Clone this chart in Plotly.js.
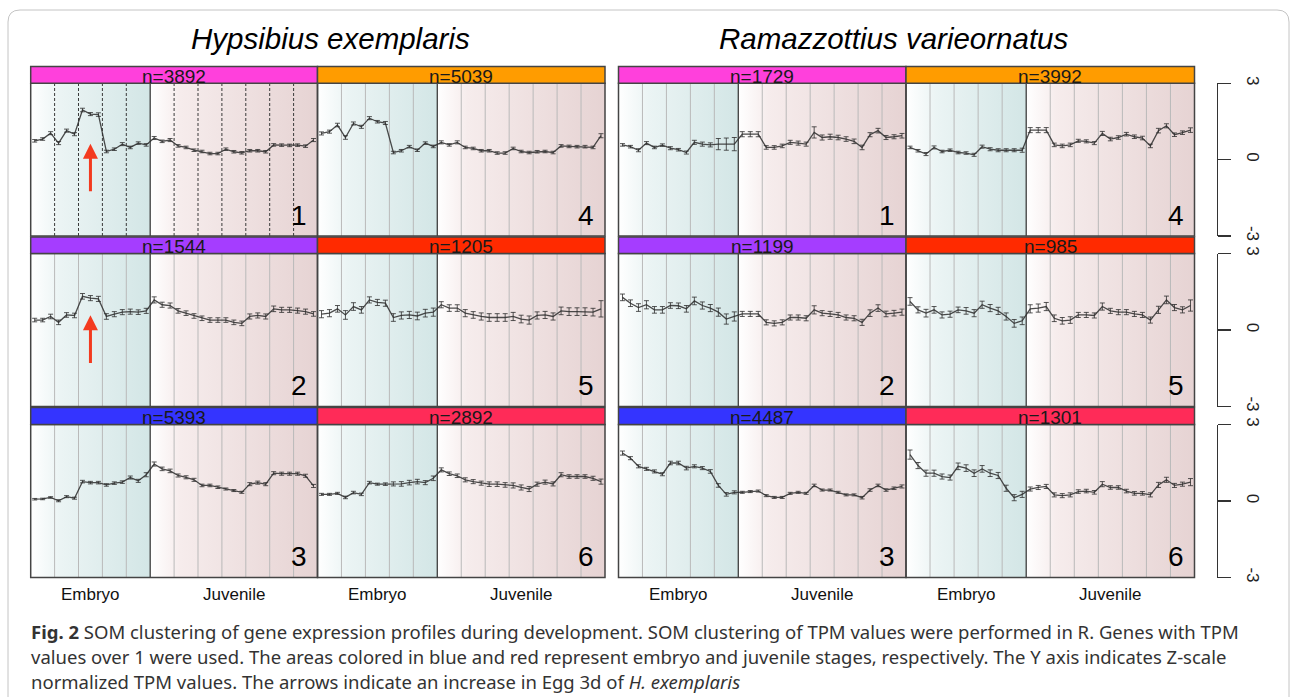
<!DOCTYPE html>
<html><head><meta charset="utf-8">
<script src="https://cdn.plot.ly/plotly-3.0.1.min.js"></script>
<style>html,body{margin:0;padding:0;background:#fff;} #chart{width:1290px;height:697px;}</style>
</head><body><div id="chart"></div>
<script>
// ---------- data ----------
const samples = [1,2,3,4,5,6,7,8,9,10,11,12,13,14,15,16,17,18,19,20,21,22,23,24,25,26,27,28,29,30,31,32,33,34,35,36];
const stageBreaks = [3.5,6.5,9.5,12.5,18.5,21.5,24.5,27.5,30.5,33.5];
const embryoEnd = 15.5;
const speciesNames = ['Hypsibius exemplaris','Ramazzottius varieornatus'];
const stageLabels = ['Embryo','Juvenile'];
const clusterIds = [1,4,1,4, 2,5,2,5, 3,6,3,6];
const clusterN   = [3892,5039,1729,3992, 1544,1205,1199,985, 5393,2892,4487,1301];
const headerColors = ['#ff40dc','#ff9c00','#ff40dc','#ff9c00','#a53dff','#ff2a00','#a53dff','#ff2a00','#3434ff','#ff2b58','#3434ff','#ff2b58'];

const hex1 = [0.74,0.81,1.04,0.65,1.14,1.00,1.95,1.79,1.77,0.32,0.41,0.61,0.48,0.65,0.58,0.85,0.72,0.77,0.54,0.48,0.37,0.32,0.24,0.24,0.41,0.31,0.27,0.35,0.35,0.31,0.58,0.57,0.56,0.57,0.53,0.77];
const hex4 = [1.03,1.10,1.36,0.87,1.42,1.29,1.63,1.49,1.44,0.28,0.35,0.51,0.37,0.65,0.52,0.68,0.58,0.68,0.48,0.44,0.35,0.35,0.26,0.26,0.44,0.32,0.28,0.31,0.32,0.28,0.54,0.52,0.51,0.51,0.48,0.94];
const ram1 = [0.58,0.51,0.37,0.65,0.48,0.57,0.45,0.39,0.28,0.68,0.61,0.58,0.61,0.61,0.61,1.00,1.00,1.00,0.48,0.48,0.54,0.68,0.65,0.61,1.07,0.87,0.90,0.87,0.81,0.72,0.48,0.98,1.14,0.87,0.90,0.94];
const ram4 = [0.48,0.35,0.22,0.48,0.32,0.37,0.28,0.26,0.19,0.51,0.41,0.37,0.37,0.37,0.37,1.16,1.16,1.16,0.58,0.54,0.58,0.74,0.72,0.65,1.03,0.81,0.87,1.00,0.90,0.85,0.54,1.14,1.33,0.98,1.06,1.16];
const hex2 = [0.39,0.39,0.53,0.30,0.59,0.57,1.32,1.25,1.22,0.53,0.62,0.70,0.72,0.70,0.75,1.18,0.99,0.96,0.75,0.66,0.55,0.46,0.39,0.39,0.39,0.30,0.26,0.53,0.57,0.53,0.83,0.79,0.79,0.76,0.72,0.63];
const hex5 = [0.62,0.66,0.83,0.59,0.92,0.79,1.18,1.08,1.05,0.49,0.57,0.59,0.55,0.66,0.70,0.99,0.86,0.86,0.66,0.59,0.53,0.49,0.49,0.49,0.53,0.43,0.39,0.57,0.59,0.53,0.75,0.72,0.72,0.72,0.70,0.83];
const ram2 = [1.28,1.05,0.88,0.99,0.79,0.79,0.96,0.95,0.83,1.14,0.96,0.86,0.70,0.43,0.53,0.63,0.63,0.63,0.30,0.26,0.30,0.49,0.49,0.46,0.79,0.66,0.63,0.59,0.49,0.46,0.30,0.66,0.86,0.63,0.66,0.70];
const ram5 = [1.12,0.79,0.66,0.79,0.59,0.62,0.79,0.75,0.66,0.99,0.86,0.75,0.53,0.26,0.36,0.83,0.86,0.92,0.46,0.36,0.39,0.59,0.59,0.57,0.92,0.75,0.70,0.70,0.63,0.59,0.39,0.79,1.18,0.88,0.79,0.96];
const hex3 = [0.07,0.08,0.14,0.01,0.17,0.11,0.76,0.72,0.72,0.63,0.70,0.74,0.92,0.79,1.03,1.45,1.26,1.18,1.00,0.93,0.83,0.61,0.61,0.54,0.47,0.41,0.34,0.66,0.72,0.66,1.09,1.07,1.07,1.07,0.99,0.59];
const hex6 = [0.26,0.26,0.30,0.14,0.33,0.26,0.72,0.66,0.66,0.67,0.67,0.72,0.76,0.72,0.89,1.22,1.07,0.99,0.83,0.76,0.70,0.66,0.66,0.63,0.61,0.53,0.47,0.66,0.74,0.67,1.03,0.96,0.96,0.96,0.89,0.76];
const ram3 = [1.88,1.68,1.36,1.26,1.16,1.05,1.49,1.49,1.29,1.36,1.29,1.16,0.61,0.26,0.34,0.34,0.37,0.39,0.21,0.14,0.14,0.30,0.34,0.30,0.61,0.43,0.43,0.34,0.24,0.24,0.13,0.43,0.61,0.43,0.50,0.57];
const ram6 = [1.82,1.39,1.09,1.09,0.96,0.92,1.36,1.29,1.09,1.26,1.09,1.00,0.50,0.13,0.26,0.47,0.53,0.57,0.24,0.21,0.24,0.37,0.39,0.34,0.66,0.53,0.53,0.39,0.30,0.30,0.24,0.63,0.83,0.61,0.66,0.74];

const hex1Err = [0.05,0.05,0.06,0.06,0.06,0.06,0.07,0.06,0.07,0.05,0.05,0.06,0.05,0.05,0.05,0.06,0.05,0.06,0.05,0.05,0.05,0.05,0.05,0.05,0.05,0.05,0.05,0.05,0.05,0.05,0.05,0.05,0.05,0.05,0.05,0.06];
const hex4Err = [0.06,0.06,0.07,0.07,0.06,0.06,0.06,0.05,0.06,0.05,0.05,0.05,0.05,0.05,0.05,0.06,0.05,0.06,0.05,0.05,0.05,0.05,0.05,0.05,0.05,0.05,0.05,0.05,0.05,0.05,0.05,0.05,0.05,0.05,0.05,0.08];
const ram1Err = [0.05,0.05,0.06,0.06,0.05,0.05,0.06,0.05,0.06,0.08,0.08,0.08,0.22,0.24,0.26,0.10,0.10,0.10,0.07,0.07,0.07,0.08,0.08,0.08,0.22,0.10,0.10,0.09,0.09,0.09,0.09,0.08,0.09,0.08,0.08,0.09];
const ram4Err = [0.05,0.05,0.06,0.06,0.05,0.05,0.05,0.05,0.06,0.06,0.06,0.06,0.06,0.06,0.08,0.10,0.10,0.10,0.07,0.07,0.07,0.06,0.06,0.06,0.08,0.07,0.07,0.07,0.07,0.07,0.07,0.09,0.08,0.07,0.07,0.09];
const hex2Err = [0.07,0.07,0.09,0.09,0.09,0.09,0.11,0.10,0.10,0.11,0.10,0.10,0.10,0.09,0.10,0.12,0.10,0.10,0.09,0.09,0.09,0.09,0.09,0.09,0.09,0.09,0.09,0.10,0.10,0.10,0.11,0.10,0.10,0.10,0.10,0.09];
const hex5Err = [0.14,0.14,0.13,0.17,0.15,0.13,0.12,0.12,0.12,0.15,0.14,0.14,0.15,0.15,0.16,0.12,0.13,0.13,0.14,0.13,0.14,0.15,0.15,0.15,0.16,0.15,0.16,0.14,0.14,0.14,0.15,0.15,0.15,0.15,0.15,0.32];
const ram2Err = [0.13,0.13,0.15,0.16,0.13,0.13,0.11,0.11,0.13,0.15,0.14,0.14,0.16,0.20,0.18,0.10,0.10,0.10,0.10,0.10,0.10,0.10,0.10,0.10,0.16,0.10,0.10,0.10,0.10,0.10,0.12,0.13,0.13,0.11,0.11,0.12];
const ram5Err = [0.15,0.12,0.15,0.13,0.12,0.12,0.11,0.13,0.14,0.14,0.14,0.14,0.14,0.15,0.15,0.16,0.16,0.16,0.13,0.13,0.13,0.10,0.10,0.10,0.14,0.10,0.10,0.10,0.10,0.10,0.12,0.14,0.15,0.12,0.12,0.22];
const hex3Err = [0.03,0.03,0.03,0.04,0.04,0.04,0.05,0.05,0.05,0.05,0.05,0.05,0.06,0.06,0.08,0.08,0.07,0.07,0.06,0.06,0.06,0.05,0.05,0.05,0.04,0.04,0.04,0.06,0.06,0.06,0.06,0.06,0.06,0.06,0.06,0.06];
const hex6Err = [0.04,0.04,0.04,0.05,0.05,0.05,0.05,0.04,0.05,0.08,0.09,0.09,0.09,0.08,0.09,0.08,0.07,0.07,0.08,0.08,0.08,0.09,0.09,0.09,0.10,0.10,0.10,0.08,0.08,0.08,0.08,0.07,0.07,0.07,0.08,0.10];
const ram3Err = [0.08,0.06,0.06,0.06,0.06,0.06,0.07,0.07,0.07,0.06,0.06,0.07,0.07,0.07,0.06,0.04,0.04,0.04,0.04,0.04,0.04,0.04,0.04,0.04,0.05,0.04,0.04,0.04,0.04,0.04,0.05,0.05,0.05,0.05,0.05,0.06];
const ram6Err = [0.18,0.12,0.12,0.12,0.10,0.10,0.13,0.13,0.13,0.13,0.13,0.12,0.12,0.12,0.12,0.08,0.08,0.08,0.08,0.08,0.08,0.07,0.07,0.07,0.10,0.07,0.07,0.07,0.07,0.07,0.08,0.10,0.10,0.08,0.08,0.14];

const panelValues = [hex1,hex4,ram1,ram4, hex2,hex5,ram2,ram5, hex3,hex6,ram3,ram6];
const panelErrors = [hex1Err,hex4Err,ram1Err,ram4Err, hex2Err,hex5Err,ram2Err,ram5Err, hex3Err,hex6Err,ram3Err,ram6Err];
const yRange = [-3,3];
const yTicks = [-3,0,3];

// ---------- layout geometry (pixels) ----------
const W = 1290, H = 697;
const colsPx = [[30.7,317.5],[317.5,605],[618.5,906],[906,1194.5]];
const rowsPx = [[83.3,236],[253.5,406.5],[424.5,577.5]];
const headPx = [[66.5,83.3],[237,253.5],[407.5,424.5]];
const X = p => p / W;
const Y = p => 1 - p / H;
const axId = (k) => (k === 1 ? '' : String(k));

const data = [];
const layout = {
  width: W, height: H,
  margin: {l:0, r:0, t:0, b:0},
  paper_bgcolor: '#ffffff', plot_bgcolor: 'rgba(0,0,0,0)',
  showlegend: false,
  font: {family: 'Liberation Sans, Arial, sans-serif', color: '#111'},
  shapes: [], annotations: []
};

const embryoScale = [[0,'#ffffff'],[0.25,'#ebf4f4'],[1,'#d3e6e6']];
const juvScale = [[0,'#ffffff'],[0.18,'#f6ecec'],[1,'#e6d3d3']];

for (let i = 0; i < 12; i++) {
  const k = i + 1;
  const r = Math.floor(i / 4), c = i % 4;
  const xa = 'x' + axId(k), ya = 'y' + axId(k);
  const xr = samples[0] - 0.5, xR = samples[samples.length - 1] + 0.5;

  layout['xaxis' + axId(k)] = {domain: [X(colsPx[c][0]), X(colsPx[c][1])], range: [xr, xR], anchor: ya,
    showgrid:false, zeroline:false, showticklabels:false, ticks:'', showline:false, fixedrange:true};
  const yax = {domain: [Y(rowsPx[r][1]), Y(rowsPx[r][0])], range: yRange, anchor: xa,
    showgrid:false, zeroline:false, showticklabels:false, ticks:'', showline:false, fixedrange:true};
  if (c === 3) {
    Object.assign(yax, {anchor:'free', position: X(1216.5), side:'right', showline:true, linecolor:'#333', linewidth:1.2,
      ticks:'outside', ticklen:13, tickwidth:1.2, tickcolor:'#333', tickvals: yTicks, ticktext: yTicks.map(String),
      showticklabels:true, tickangle:90, ticklabelstandoff: 10,
      tickfont:{size:17, color:'#222', family:'Liberation Sans, Arial, sans-serif'}});
  }
  layout['yaxis' + axId(k)] = yax;

  // gradient backgrounds
  data.push({type:'scatter', xaxis:xa, yaxis:ya, x:[xr,embryoEnd,embryoEnd,xr,xr], y:[yRange[0],yRange[0],yRange[1],yRange[1],yRange[0]],
    mode:'lines', line:{width:0}, fill:'toself', fillgradient:{type:'horizontal', colorscale: embryoScale}, hoverinfo:'skip'});
  data.push({type:'scatter', xaxis:xa, yaxis:ya, x:[embryoEnd,xR,xR,embryoEnd,embryoEnd], y:[yRange[0],yRange[0],yRange[1],yRange[1],yRange[0]],
    mode:'lines', line:{width:0}, fill:'toself', fillgradient:{type:'horizontal', colorscale: juvScale}, hoverinfo:'skip'});

  // stage separators
  const sx = [], sy = [];
  stageBreaks.forEach(b => { sx.push(b, b, null); sy.push(yRange[0], yRange[1], null); });
  const dashed = (i === 0);
  data.push({type:'scatter', xaxis:xa, yaxis:ya, x:sx, y:sy, mode:'lines', hoverinfo:'skip',
    line: dashed ? {color:'#3a3a3a', width:1, dash:'3px,2px'} : {color:'#b9b9b9', width:1}});
  data.push({type:'scatter', xaxis:xa, yaxis:ya, x:[embryoEnd,embryoEnd], y:yRange, mode:'lines', hoverinfo:'skip',
    line:{color:'#3d3d3d', width:1.3}});

  // profile
  data.push({type:'scatter', xaxis:xa, yaxis:ya, x:samples, y:panelValues[i], mode:'lines',
    line:{color:'rgba(45,45,45,0.85)', width:1.3},
    error_y:{type:'data', array:panelErrors[i], visible:true, color:'rgba(45,45,45,0.8)', thickness:1, width:2.5}});

  // panel border
  layout.shapes.push({type:'rect', xref:'paper', yref:'paper', x0:X(colsPx[c][0]), x1:X(colsPx[c][1]), y0:Y(rowsPx[r][1]), y1:Y(rowsPx[r][0]),
    line:{color:'#444', width:1.5}, fillcolor:'rgba(0,0,0,0)', layer:'above'});
  // header bar
  layout.shapes.push({type:'rect', xref:'paper', yref:'paper', x0:X(colsPx[c][0]), x1:X(colsPx[c][1]), y0:Y(headPx[r][1]), y1:Y(headPx[r][0]),
    line:{color:'#444', width:1.5}, fillcolor:headerColors[i], layer:'above'});
  layout.annotations.push({xref:'paper', yref:'paper', x:X((colsPx[c][0]+colsPx[c][1])/2), y:Y((headPx[r][0]+headPx[r][1])/2 + 1.5),
    text:'n=' + clusterN[i], showarrow:false, xanchor:'center', yanchor:'middle', font:{size:19, color:'#1a1a1a'}});
  // cluster number
  layout.annotations.push({xref:xa + ' domain', yref:ya + ' domain', x:0.97, y:0.02, xanchor:'right', yanchor:'bottom',
    text:String(clusterIds[i]), showarrow:false, font:{size:28, color:'#000'}});
  // stage labels under bottom row
  if (r === 2) {
    layout.annotations.push({xref:xa, yref:'paper', x:(xr+embryoEnd)/2, y:Y(594.5), text:stageLabels[0], showarrow:false,
      xanchor:'center', yanchor:'middle', font:{size:17, color:'#111'}});
    layout.annotations.push({xref:xa, yref:'paper', x:(embryoEnd+xR)/2, y:Y(594.5), text:stageLabels[1], showarrow:false,
      xanchor:'center', yanchor:'middle', font:{size:17, color:'#111'}});
  }
}

// arrows indicating Egg 3d in H. exemplaris clusters 1 and 2
[[1, 0.62, -1.3],[5, 0.58, -1.35]].forEach(([k, tip, tail]) => {
  const xa = 'x' + axId(k), ya = 'y' + axId(k);
  layout.annotations.push({xref:xa, yref:ya, axref:xa, ayref:ya, x:samples[7], y:tip, ax:samples[7], ay:tail,
    text:'', showarrow:true, arrowhead:2, arrowsize:1, arrowwidth:3, arrowcolor:'#f33a1f'});
});

// species titles
layout.annotations.push({xref:'paper', yref:'paper', x:X(330), y:Y(38), text:'<i>'+speciesNames[0]+'</i>', showarrow:false,
  xanchor:'center', yanchor:'middle', font:{size:29.5, color:'#000'}});
layout.annotations.push({xref:'paper', yref:'paper', x:X(893), y:Y(38), text:'<i>'+speciesNames[1]+'</i>', showarrow:false,
  xanchor:'center', yanchor:'middle', font:{size:29.5, color:'#000'}});

// caption
const captionLines = [
  '<b>Fig. 2</b> SOM clustering of gene expression profiles during development. SOM clustering of TPM values were performed in R. Genes with TPM',
  'values over 1 were used. The areas colored in blue and red represent embryo and juvenile stages, respectively. The Y axis indicates Z-scale',
  'normalized TPM values. The arrows indicate an increase in Egg 3d of <i>H. exemplaris</i>'
];
captionLines.forEach((t, j) => {
  layout.annotations.push({xref:'paper', yref:'paper', x:X(29), y:Y(631 + 25*j), text:t, showarrow:false,
    xanchor:'left', yanchor:'middle', align:'left', font:{size:18.5, color:'#333', family:'Noto Sans, Open Sans, sans-serif'}});
});

// outer rounded frame
layout.shapes.push({type:'path', xref:'paper', yref:'paper', layer:'above',
  path:`M ${X(8)},${Y(700)} L ${X(8)},${Y(22)} Q ${X(8)},${Y(10)} ${X(20)},${Y(10)} L ${X(1277)},${Y(10)} Q ${X(1289)},${Y(10)} ${X(1289)},${Y(22)} L ${X(1289)},${Y(700)}`,
  line:{color:'#c4c4c4', width:1}});

Plotly.newPlot('chart', data, layout, {staticPlot:true, displayModeBar:false});
</script>
</body></html>
